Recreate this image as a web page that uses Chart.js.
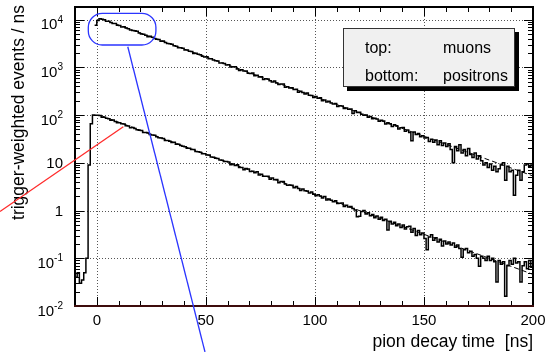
<!DOCTYPE html>
<html>
<head>
<meta charset="utf-8">
<title>pion decay time</title>
<script src="https://cdn.jsdelivr.net/npm/chart.js@4.4.0/dist/chart.umd.min.js"></script>
<style>
  html, body { margin: 0; padding: 0; background: #fff; }
  #wrap { position: relative; width: 548px; height: 352px; }
</style>
</head>
<body>
<div id="wrap"><canvas id="decay" width="548" height="352"></canvas></div>
<script>
(function () {
  "use strict";

  // histogram binning: 1 ns bins, first bin starts at -10 ns
  var BIN_START = -10;
  var BIN_WIDTH = 1;

  // trigger-weighted events / ns, one value per bin (t = -10 ... 199)
  var muons = [
    0, 0, 0, 0, 0, 0, 0, 0, 0,
    7600,
    9600, 10400, 10150, 9900, 9250, 9260, 8730, 8320, 8330, 7630,
    7560, 6990, 7080, 6680, 6480, 6060, 5890, 5830, 5680, 5250,
    5000, 4960, 4720, 4400, 4470, 4250, 4010, 3890, 3830, 3540,
    3580, 3310, 3150, 3120, 3040, 2840, 2760, 2570, 2580, 2500,
    2320, 2300, 2170, 2150, 1960, 1970, 1880, 1840, 1700, 1650,
    1660, 1520, 1520, 1430, 1370, 1360, 1240, 1240, 1210, 1120,
    1130, 1015, 1030, 1030, 925, 863, 890, 840, 841, 756,
    742, 764, 666, 681, 629, 637, 559, 578, 573, 525,
    495, 516, 472, 436, 447, 446, 385, 393, 368, 372,
    345, 347, 302, 315, 298, 278, 290, 260, 258, 235,
    244, 226, 232, 200, 206, 189, 196, 180, 171, 175,
    151, 157, 155, 137, 141, 132, 134, 108, 123, 114,
    115, 104, 99, 101, 90, 93, 84, 86, 83, 74,
    78, 75, 65, 69, 66, 58, 63, 60, 51, 54,
    55, 46, 49, 43, 29, 44, 39, 41, 35, 37,
    33, 34, 28, 31, 27, 30, 24, 29, 23, 26,
    22, 25, 19, 10, 22, 18, 24, 16, 19, 14,
    20, 15, 13, 16, 12, 14, 11, 9, 10, 8,
    9.5, 7, 8.5, 6.5, 7.5, 9, 10, 4.3, 8.5, 6.5,
    7, 2.1, 5.5, 7, 4.3, 6.5, 9, 9.5, 8.5, 9
  ];

  var positrons = [
    0.04, 0.05, 0.03, 0.035, 0.05, 0.1, 9, 66, 100, 99,
    99, 98, 90, 90, 86, 84, 78, 79, 73, 69,
    69, 65.5, 65, 59.5, 59, 54.5, 55.2, 52.5, 49.6, 48.2,
    47.3, 43.3, 43.3, 42.1, 39, 38.3, 37.9, 35, 33.4, 33.1,
    32.2, 29.5, 29.2, 28.4, 26.8, 26.9, 24.6, 24.6, 23, 22.3,
    21.7, 20.1, 20.3, 19, 19, 17.3, 17.1, 16.6, 15.5, 15.5,
    14.5, 14.5, 13.2, 13.1, 12.5, 12.3, 11.4, 11.3, 10.7, 10.6,
    10.4, 9.14, 9.45, 8.82, 9.09, 8, 7.94, 7.18, 7.57, 7.43,
    6.54, 6.62, 6.18, 6.49, 5.55, 5.73, 5.25, 5.2, 5.26, 4.53,
    4.78, 4.42, 4.46, 3.84, 4.06, 4.06, 3.61, 3.4, 3.44, 3.38,
    3, 3.19, 2.89, 2.64, 2.82, 2.61, 2.56, 2.34, 2.46, 2.19,
    2.04, 2.13, 2.01, 1.84, 1.97, 1.66, 1.74, 1.64, 1.53, 1.6,
    1.4, 1.42, 1.44, 1.21, 1.29, 1.19, 1.21, 1.11, 1.03, 0.74,
    0.76, 0.95, 1, 0.85, 0.9, 0.78, 0.83, 0.71, 0.77, 0.66,
    0.72, 0.62, 0.66, 0.39, 0.6, 0.52, 0.57, 0.48, 0.52, 0.44,
    0.5, 0.41, 0.46, 0.47, 0.35, 0.42, 0.3, 0.38, 0.31, 0.34,
    0.26, 0.15, 0.28, 0.31, 0.24, 0.27, 0.22, 0.25, 0.18, 0.23,
    0.2, 0.22, 0.19, 0.21, 0.17, 0.19, 0.16, 0.105, 0.15, 0.16,
    0.13, 0.14, 0.11, 0.12, 0.1, 0.068, 0.11, 0.1, 0.09, 0.11,
    0.09, 0.1, 0.085, 0.032, 0.09, 0.075, 0.085, 0.016, 0.07, 0.09,
    0.075, 0.1, 0.08, 0.085, 0.032, 0.07, 0.085, 0.06, 0.09, 0.065
  ];

  // exponential fits (dashed), end points
  var fitTimes = [2, 200];
  var muonFit = [10400, 5.3];
  var positronFit = [97, 0.046];

  // axes
  var X_MIN = -10, X_MAX = 200;
  var Y_MIN = 0.01, Y_MAX = 18400;
  var xMajorTicks = [0, 50, 100, 150, 200];
  var xTickLabels = ["0", "50", "100", "150", "200"];
  var yMajorTicks = [0.01, 0.1, 1, 10, 100, 1000, 10000];
  var yTickBase = ["10", "10", "1", "10", "10", "10", "10"];
  var yTickExp = ["-2", "-1", "", "", "2", "3", "4"];
  var xTitle = "pion decay time  [ns]";
  var yTitle = "trigger-weighted events / ns";

  // legend text box
  var legendKeys = ["top:", "bottom:"];
  var legendNames = ["muons", "positrons"];

  // hand-drawn markup, in data units [t, value]
  var redLine = [[-44.4, 0.953], [12.15, 57]];
  var blueLine = [[14.2, 2700], [49.6, 0.00109]];
  var blueBox = [[-3.9, 13550], [27.1, 2940]];

  var FONT = '"Liberation Sans", Arial, Helvetica, sans-serif';

  function histPoints(values) {
    var pts = [];
    for (var i = 0; i < values.length; i++) {
      pts.push({ x: BIN_START + i * BIN_WIDTH, y: values[i] });
    }
    pts.push({ x: BIN_START + values.length * BIN_WIDTH, y: values[values.length - 1] });
    return pts;
  }

  function linePoints(xs, ys) {
    return xs.map(function (x, i) { return { x: x, y: ys[i] }; });
  }

  function snap(v) {
    return Math.round(v) + 0.5;
  }

  function drawGrid(chart) {
    var ctx = chart.ctx, a = chart.chartArea;
    var xs = chart.scales.x, ys = chart.scales.y;
    ctx.save();
    ctx.strokeStyle = "#555";
    ctx.lineWidth = 1;
    ctx.setLineDash([1, 2]);
    ctx.beginPath();
    xMajorTicks.forEach(function (t) {
      if (t <= X_MIN || t >= X_MAX) return;
      var px = snap(xs.getPixelForValue(t));
      ctx.moveTo(px, a.top);
      ctx.lineTo(px, a.bottom);
    });
    yMajorTicks.forEach(function (v) {
      if (v <= Y_MIN || v >= Y_MAX) return;
      var py = snap(ys.getPixelForValue(v));
      ctx.moveTo(a.left, py);
      ctx.lineTo(a.right, py);
    });
    ctx.stroke();
    ctx.restore();
  }

  function drawFrame(chart) {
    var ctx = chart.ctx, a = chart.chartArea;
    var xs = chart.scales.x, ys = chart.scales.y;
    ctx.save();
    ctx.strokeStyle = "#000";
    ctx.lineWidth = 1;
    ctx.beginPath();
    var t, len, px, py;
    for (t = X_MIN + 10; t < X_MAX; t += 10) {
      px = snap(xs.getPixelForValue(t));
      len = xMajorTicks.indexOf(t) >= 0 ? 9 : 5;
      ctx.moveTo(px, a.bottom);
      ctx.lineTo(px, a.bottom - len);
      ctx.moveTo(px, a.top);
      ctx.lineTo(px, a.top + len);
    }
    for (var d = -2; d <= 4; d++) {
      for (var m = 1; m <= 9; m++) {
        var v = m * Math.pow(10, d);
        if (v <= Y_MIN * 1.0001 || v >= Y_MAX) continue;
        py = snap(ys.getPixelForValue(v));
        len = m === 1 ? 9 : 5;
        ctx.moveTo(a.left, py);
        ctx.lineTo(a.left + len, py);
        ctx.moveTo(a.right, py);
        ctx.lineTo(a.right - len, py);
      }
    }
    ctx.stroke();

    ctx.lineWidth = 2;
    ctx.beginPath();
    ctx.moveTo(a.left, a.bottom);
    ctx.lineTo(a.left, a.top);
    ctx.lineTo(a.right, a.top);
    ctx.lineTo(a.right, a.bottom);
    ctx.stroke();
    ctx.strokeStyle = "#3d0c0c";
    ctx.beginPath();
    ctx.moveTo(a.left - 1, a.bottom);
    ctx.lineTo(a.right + 1, a.bottom);
    ctx.stroke();
    ctx.restore();
  }

  function drawLabels(chart) {
    var ctx = chart.ctx, a = chart.chartArea;
    var xs = chart.scales.x, ys = chart.scales.y;
    ctx.save();
    ctx.fillStyle = "#000";

    ctx.font = "15px " + FONT;
    ctx.textAlign = "center";
    ctx.textBaseline = "alphabetic";
    xMajorTicks.forEach(function (t, i) {
      ctx.fillText(xTickLabels[i], xs.getPixelForValue(t), a.bottom + 19);
    });

    var right = 63;
    yMajorTicks.forEach(function (v, i) {
      var py = ys.getPixelForValue(v);
      if (yTickExp[i]) {
        ctx.font = "10px " + FONT;
        var ew = ctx.measureText(yTickExp[i]).width;
        ctx.textAlign = "left";
        ctx.fillText(yTickExp[i], right - ew, py + 3);
        ctx.font = "15px " + FONT;
        ctx.textAlign = "right";
        ctx.fillText(yTickBase[i], right - ew, py + 9.5);
      } else {
        ctx.font = "15px " + FONT;
        ctx.textAlign = "right";
        ctx.fillText(yTickBase[i], right, py + 5.5);
      }
    });

    ctx.font = "17.5px " + FONT;
    ctx.textAlign = "right";
    ctx.fillText(xTitle, a.right, 347);

    ctx.translate(23.5, 5);
    ctx.rotate(-Math.PI / 2);
    ctx.textAlign = "right";
    ctx.fillText(yTitle, 0, 0);
    ctx.restore();
  }

  function drawLegendBox(chart) {
    var ctx = chart.ctx;
    var bx = 343, by = 28, bw = 172, bh = 59;
    ctx.save();
    ctx.fillStyle = "#000";
    ctx.fillRect(bx + 4, by + 4, bw, bh);
    ctx.fillStyle = "#f0f0f0";
    ctx.fillRect(bx, by, bw, bh);
    ctx.strokeStyle = "#333";
    ctx.lineWidth = 1;
    ctx.strokeRect(bx + 0.5, by + 0.5, bw - 1, bh - 1);
    ctx.fillStyle = "#000";
    ctx.font = "16px " + FONT;
    ctx.textAlign = "left";
    ctx.textBaseline = "alphabetic";
    legendKeys.forEach(function (k, i) {
      var base = by + 24.5 + i * 28;
      ctx.fillText(k, bx + 22, base);
      ctx.fillText(legendNames[i], bx + 100, base);
    });
    ctx.restore();
  }

  function drawMarkup(chart) {
    var ctx = chart.ctx;
    var xs = chart.scales.x, ys = chart.scales.y;
    function px(p) { return [xs.getPixelForValue(p[0]), ys.getPixelForValue(p[1])]; }
    ctx.save();
    ctx.lineWidth = 1.3;

    ctx.strokeStyle = "#ff2b2b";
    var r0 = px(redLine[0]), r1 = px(redLine[1]);
    ctx.beginPath();
    ctx.moveTo(r0[0], r0[1]);
    ctx.lineTo(r1[0], r1[1]);
    ctx.stroke();

    ctx.strokeStyle = "#2b35ff";
    var b0 = px(blueLine[0]), b1 = px(blueLine[1]);
    ctx.beginPath();
    ctx.moveTo(b0[0], b0[1]);
    ctx.lineTo(b1[0], b1[1]);
    ctx.stroke();

    var q0 = px(blueBox[0]), q1 = px(blueBox[1]);
    var x0 = q0[0], y0 = q0[1], x1 = q1[0], y1 = q1[1];
    var r = 14;
    ctx.beginPath();
    ctx.moveTo(x0 + r, y0);
    ctx.lineTo(x1 - r, y0);
    ctx.arcTo(x1, y0, x1, y0 + r, r);
    ctx.lineTo(x1, y1 - r);
    ctx.arcTo(x1, y1, x1 - r, y1, r);
    ctx.lineTo(x0 + r, y1);
    ctx.arcTo(x0, y1, x0, y1 - r, r);
    ctx.lineTo(x0, y0 + r);
    ctx.arcTo(x0, y0, x0 + r, y0, r);
    ctx.closePath();
    ctx.stroke();
    ctx.restore();
  }

  var rootStyle = {
    id: "rootStyle",
    beforeDatasetsDraw: function (chart) {
      drawGrid(chart);
    },
    afterDatasetsDraw: function (chart) {
      drawFrame(chart);
      drawLabels(chart);
      drawLegendBox(chart);
      drawMarkup(chart);
    }
  };

  function histSet(label, values) {
    return {
      label: label,
      data: histPoints(values),
      stepped: true,
      borderColor: "#000",
      borderWidth: 1.5,
      pointRadius: 0,
      fill: false,
      clip: 0
    };
  }

  function fitSet(label, values) {
    return {
      label: label,
      data: linePoints(fitTimes, values),
      borderColor: "#000",
      borderWidth: 1,
      borderDash: [5, 3],
      pointRadius: 0,
      fill: false,
      clip: 0
    };
  }

  var ctx = document.getElementById("decay").getContext("2d");
  new Chart(ctx, {
    type: "line",
    data: {
      datasets: [
        histSet("muons", muons),
        histSet("positrons", positrons),
        fitSet("muon fit", muonFit),
        fitSet("positron fit", positronFit)
      ]
    },
    options: {
      responsive: false,
      animation: false,
      devicePixelRatio: 1,
      layout: { padding: { left: 75, right: 15, top: 7, bottom: 46 } },
      plugins: { legend: { display: false }, tooltip: { enabled: false } },
      scales: {
        x: { type: "linear", min: X_MIN, max: X_MAX, display: false },
        y: { type: "logarithmic", min: Y_MIN, max: Y_MAX, display: false }
      }
    },
    plugins: [rootStyle]
  });
})();
</script>
</body>
</html>
